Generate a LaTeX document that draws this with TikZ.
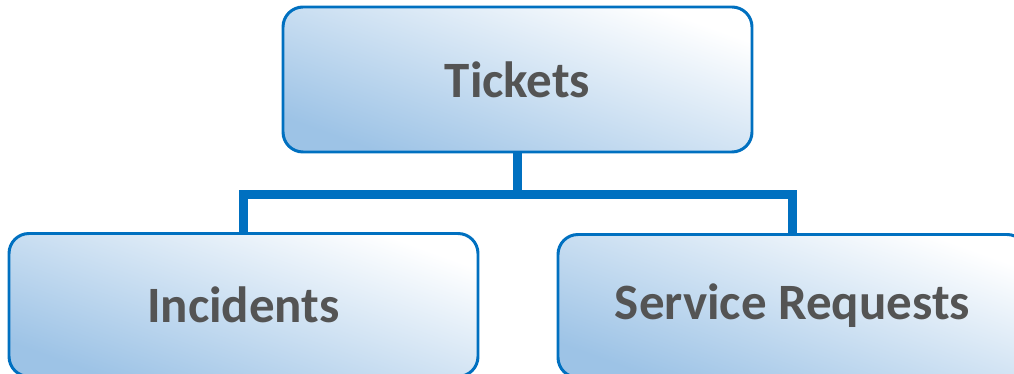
\documentclass[tikz,border=0pt]{standalone}
\usepackage{fontspec}
\setmainfont{Carlito}
\usepackage{tikz}
\usetikzlibrary{arrows,shapes}
\definecolor{boxblue}{HTML}{9DC3E6}
\definecolor{lineblue}{HTML}{0070C0}
\definecolor{textgray}{HTML}{545454}
\tikzstyle{ticketbox}=[rectangle,rounded corners=0.4cm,draw=lineblue,line width=1.7pt,top color=white,bottom color=boxblue,shading angle=-20,minimum width=9.38cm,text=textgray,font=\fontsize{29}{34}\selectfont\bfseries]
\tikzstyle{edge} = [draw,lineblue,line width=5pt]

\begin{document}
\begin{tikzpicture}[scale=1]

    \useasboundingbox (0,0) rectangle (20.28,-7.48);

     \foreach \x/\y/\h/\name/\text in {10.35/-1.59/2.90/tickets/Tickets, 4.87/-6.10/2.86/incidents/Incidents, 15.85/-6.12/2.86/requests/Service Requests}
        \node[ticketbox, minimum height=\h cm] (\name) at (\x, \y) {\text};

    \coordinate (split) at ([yshift=-0.82cm]tickets.south);

    \path[edge] (tickets.south) -- (split);
    \path[edge] (incidents.north) |- (split) -| (requests.north);

\end{tikzpicture}
\end{document}
